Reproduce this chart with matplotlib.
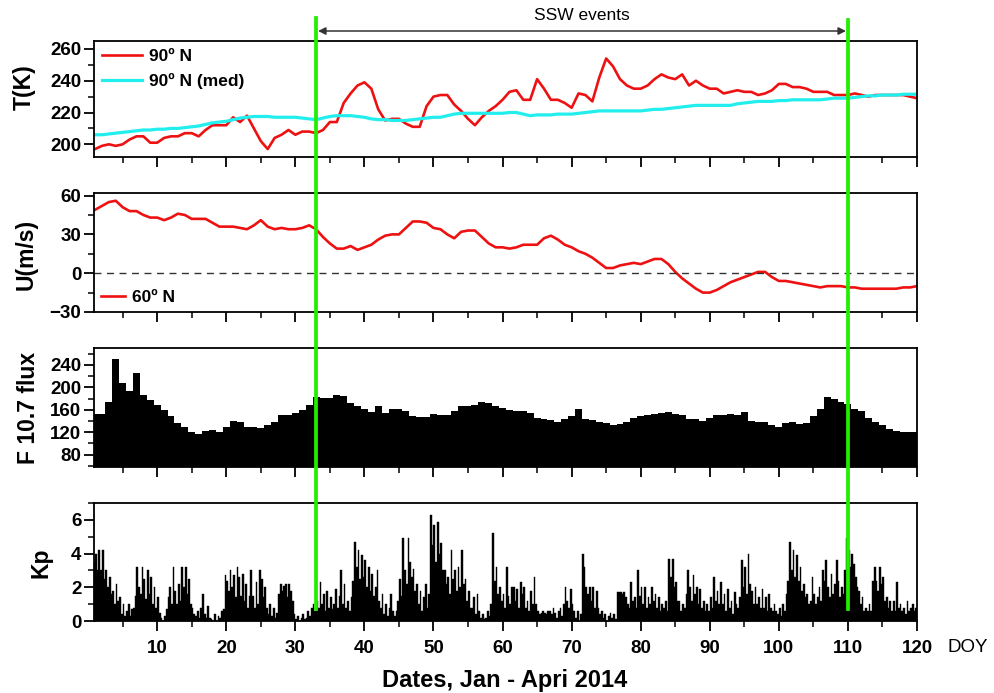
import matplotlib
matplotlib.use("Agg")
import matplotlib.pyplot as plt
from matplotlib.ticker import MultipleLocator
from matplotlib.lines import Line2D
from matplotlib.patches import FancyArrowPatch

plt.rcParams['font.family'] = ['Liberation Sans', 'DejaVu Sans']

days = list(range(1, 121))

t90 = [197, 199, 200, 199, 200, 203, 205, 205, 201, 201, 204, 205, 205, 207, 207, 205, 209, 212, 212, 212,
       217, 214, 218, 210, 202, 197, 204, 206, 209, 206, 208, 208, 207, 209, 214, 214, 226, 232, 237, 239,
       235, 222, 215, 216, 216, 213, 211, 211, 224, 230, 231, 231, 225, 221, 216, 212, 217, 221, 224, 228,
       233, 234, 228, 228, 241, 235, 228, 228, 226, 223, 232, 231, 227, 242, 254, 249, 241, 237, 235, 235,
       237, 241, 244, 242, 241, 244, 237, 240, 237, 235, 235, 232, 233, 234, 233, 233, 231, 232, 234, 238,
       238, 236, 236, 235, 233, 233, 233, 231, 231, 231, 232, 231, 230, 231, 231, 231, 231, 231, 230, 229]

t90_med = [206, 206, 206.5, 207, 207.5, 208, 208.5, 209, 209, 209.5, 209.5, 210, 210, 210.5, 211, 211.5,
           212.5, 213.5, 214, 214.5, 215.5, 216.5, 217, 217.5, 217.5, 217.5, 217, 217, 217, 217, 216.5, 216,
           215.5, 216.5, 217.5, 218, 218, 218, 217.5, 217, 216, 215.5, 215.5, 215, 215, 215, 215.5, 216,
           216.5, 217, 217, 218, 219, 219.5, 219.5, 219.5, 219.5, 219.5, 219.5, 219.5, 220, 220, 219, 218,
           218.5, 218.5, 218.5, 219, 219, 219, 219.5, 220, 220.5, 221, 221, 221, 221, 221, 221, 221, 221.5,
           222, 222, 222.5, 223, 223.5, 224, 224.5, 224.5, 224.5, 224.5, 224.5, 224.5, 225.5, 226, 226.5,
           227, 227, 227, 227.5, 227.5, 228, 228, 228, 228, 228, 228.5, 229, 229, 229, 229.5, 230, 230.5,
           230.5, 231, 231, 231, 231.5, 231.5, 231.5]

u60 = [49, 52, 55, 56, 51, 48, 48, 45, 43, 43, 41, 43, 46, 45, 42, 42, 42, 39, 36, 36,
       36, 35, 34, 37, 41, 36, 34, 35, 34, 34, 35, 37, 34, 28, 23, 19, 19, 21, 18, 20,
       22, 26, 29, 30, 30, 35, 40, 40, 39, 35, 34, 30, 27, 32, 33, 33, 28, 23, 20, 20,
       19, 20, 22, 22, 22, 27, 29, 26, 22, 20, 17, 15, 12, 8, 4, 4, 6, 7, 8, 7,
       9, 11, 11, 7, 1, -4, -8, -12, -15, -15, -13, -10, -7, -5, -3, -1, 1, 1, -3, -6,
       -6, -7, -8, -9, -10, -11, -10, -10, -10, -11, -11, -12, -12, -12, -12, -12, -12, -11, -11, -10]

f107 = [153, 153, 174, 251, 208, 194, 226, 187, 177, 169, 159, 148, 136, 130, 120, 116, 123, 124, 121, 130,
        140, 138, 130, 130, 127, 132, 138, 150, 150, 154, 159, 169, 183, 181, 181, 187, 184, 172, 166, 162,
        156, 166, 155, 161, 161, 157, 148, 147, 147, 153, 151, 151, 158, 166, 166, 169, 174, 172, 166, 163,
        160, 157, 157, 154, 145, 144, 142, 139, 143, 148, 161, 143, 142, 139, 136, 133, 135, 138, 146, 148,
        151, 153, 154, 156, 153, 150, 143, 144, 140, 146, 150, 150, 153, 151, 156, 140, 139, 138, 133, 130,
        136, 138, 135, 136, 149, 161, 183, 179, 174, 171, 162, 158, 145, 139, 132, 126, 123, 120, 121, 121]

kp_by_day = [
    [2.0, 3.5, 4.0, 3.0], [4.2, 3.0, 4.2, 2.5], [3.0, 2.0, 2.6, 1.6], [1.8, 1.0, 2.2, 1.2],
    [1.4, 0.4, 1.0, 0.3], [0.6, 1.0, 0.3, 0.7], [0.8, 1.5, 3.2, 2.0], [1.6, 3.2, 2.5, 1.3],
    [3.0, 1.6, 2.6, 1.0], [2.0, 0.8, 1.4, 0.5], [0.2, 0.0, 0.3, 0.7], [1.4, 2.0, 1.0, 3.2],
    [1.8, 1.0, 2.2, 1.2], [3.2, 2.0, 3.2, 1.6], [2.5, 1.0, 0.8, 0.4], [0.3, 0.6, 0.2, 0.8],
    [1.6, 0.4, 0.2, 0.9], [0.2, 0.1, 0.0, 0.4], [0.0, 0.3, 0.2, 0.6], [0.7, 2.7, 2.4, 1.8],
    [3.0, 2.0, 2.7, 1.4], [3.2, 2.6, 1.5, 2.8], [1.2, 2.2, 0.8, 1.5], [3.0, 1.5, 0.8, 2.3],
    [1.0, 3.0, 2.5, 1.4], [2.0, 0.8, 0.4, 1.0], [0.3, 0.8, 0.2, 0.5], [1.6, 2.2, 1.8, 2.1],
    [2.2, 1.4, 2.2, 1.8], [1.2, 0.4, 0.1, 0.3], [0.0, 0.2, 0.4, 0.1], [0.2, 0.6, 0.3, 0.8],
    [1.0, 0.6, 1.2, 0.8], [2.3, 1.0, 1.6, 0.6], [1.8, 0.8, 1.4, 0.7], [1.0, 1.9, 0.8, 1.5],
    [3.0, 1.0, 2.2, 0.8], [1.2, 0.6, 1.4, 2.4], [4.7, 3.2, 4.2, 2.5], [3.9, 2.6, 3.6, 2.0],
    [3.2, 1.8, 2.8, 1.5], [2.0, 3.0, 1.2, 0.8], [1.6, 0.4, 1.0, 0.3], [0.8, 1.6, 0.6, 0.3],
    [0.6, 1.2, 2.5, 1.5], [4.9, 3.0, 2.2, 4.9], [3.5, 2.6, 3.1, 1.8], [2.2, 1.0, 1.8, 0.6],
    [1.4, 2.2, 0.8, 1.6], [6.3, 4.5, 5.7, 3.5], [5.9, 4.0, 4.6, 3.0], [3.0, 2.2, 2.6, 1.6],
    [4.2, 2.5, 3.0, 1.8], [3.2, 2.0, 4.2, 2.2], [2.5, 1.2, 1.8, 0.8], [0.8, 1.4, 0.4, 1.6],
    [0.6, 0.2, 0.4, 0.1], [0.2, 0.6, 0.3, 1.0], [5.2, 2.4, 3.2, 1.6], [2.0, 1.2, 1.6, 0.8],
    [3.2, 1.5, 1.0, 2.0], [2.0, 1.2, 1.9, 0.8], [2.3, 1.6, 2.0, 0.8], [1.2, 0.6, 1.8, 1.0],
    [2.6, 1.0, 0.6, 0.4], [0.5, 0.6, 0.5, 0.4], [0.6, 0.6, 0.4, 0.8], [0.5, 0.2, 0.6, 0.8],
    [0.3, 1.0, 2.0, 1.2], [0.8, 1.9, 1.0, 0.6], [0.2, 0.6, 0.0, 0.4], [4.0, 3.2, 2.0, 1.6],
    [2.0, 1.2, 2.0, 0.8], [1.8, 0.8, 0.4, 0.6], [0.2, 0.4, 0.0, 0.3], [0.5, 0.2, 0.4, 0.1],
    [1.7, 1.7, 1.7, 1.6], [1.7, 1.4, 1.0, 0.8], [2.3, 1.2, 1.4, 0.8], [3.0, 1.5, 2.0, 1.0],
    [2.0, 0.8, 1.4, 1.0], [2.0, 1.2, 1.6, 0.8], [1.4, 0.6, 1.0, 0.8], [1.2, 0.6, 3.7, 2.6],
    [3.7, 2.0, 2.3, 1.2], [1.2, 0.6, 1.0, 0.8], [1.6, 3.0, 2.0, 1.2], [2.7, 1.6, 2.0, 1.0],
    [1.9, 0.8, 1.2, 0.6], [1.0, 0.6, 1.4, 0.8], [2.6, 1.2, 1.8, 1.0], [2.3, 1.0, 1.6, 0.6],
    [1.9, 0.8, 1.2, 0.4], [1.7, 1.0, 0.8, 1.4], [3.6, 2.0, 3.2, 1.6], [4.0, 2.2, 1.8, 1.0],
    [2.0, 1.0, 1.4, 0.8], [1.9, 0.8, 1.4, 0.6], [1.6, 0.8, 0.6, 1.0], [0.6, 0.4, 0.8, 0.3],
    [1.0, 0.6, 1.6, 2.4], [4.7, 3.0, 4.2, 2.6], [3.9, 2.4, 3.2, 1.8], [2.2, 1.4, 1.6, 1.0],
    [1.2, 2.6, 1.6, 1.0], [1.4, 2.0, 1.2, 3.0], [2.4, 3.6, 2.0, 1.4], [2.8, 1.6, 2.2, 3.6],
    [2.4, 1.4, 2.0, 1.6], [3.0, 4.9, 4.2, 3.2], [4.0, 3.4, 2.6, 2.0], [1.8, 1.0, 1.4, 0.6],
    [0.8, 0.6, 1.0, 0.6], [2.4, 3.2, 2.4, 1.8], [3.2, 2.2, 2.6, 1.2], [1.4, 0.8, 1.2, 0.6],
    [1.2, 0.6, 2.3, 0.8], [1.0, 0.6, 0.8, 0.4], [1.2, 0.6, 0.8, 1.0], [0.6, 0.8, 0.4, 0.6],
]

ssw_start = 33
ssw_end = 110
xticks = [10, 20, 30, 40, 50, 60, 70, 80, 90, 100, 110, 120]

RED = '#ee1111'
CYAN = '#22eeee'
GREEN = '#22ee00'

TICK_FS = 13.5
LABEL_FS = 16.5
LEG_FS = 12.5

fig = plt.figure(figsize=(9.95, 6.93), dpi=100)
left = 94 / 995
width = (917 - 94) / 995


def pos(top, bot):
    return [left, (693 - bot) / 693, width, (bot - top) / 693]


ax1 = fig.add_axes(pos(41, 157))
ax2 = fig.add_axes(pos(193, 312))
ax3 = fig.add_axes(pos(348, 467))
ax4 = fig.add_axes(pos(503, 621))
axes = [ax1, ax2, ax3, ax4]

for ax in axes:
    ax.set_xlim(0.85, 120)
    ax.xaxis.set_major_locator(MultipleLocator(10))
    ax.xaxis.set_minor_locator(MultipleLocator(5))
    ax.tick_params(axis='both', which='major', direction='out', length=7, width=1.3,
                   top=False, right=False, pad=2)
    ax.tick_params(axis='both', which='minor', direction='out', length=4, width=1.1,
                   top=False, right=False)
    for s in ax.spines.values():
        s.set_linewidth(1.3)
    if ax is not ax4:
        ax.tick_params(axis='x', labelbottom=False)

# Panel 1: temperature
ax1.plot(days, t90, color=RED, lw=1.9, label='90º N')
ax1.plot(days, t90_med, color=CYAN, lw=2.3, label='90º N (med)')
ax1.set_ylim(192, 265)
ax1.yaxis.set_major_locator(MultipleLocator(20))
ax1.yaxis.set_minor_locator(MultipleLocator(10))
ax1.set_ylabel('T(K)', fontsize=LABEL_FS, fontweight='bold')
ax1.yaxis.set_label_coords(-0.0705, 0.60)
ax1.legend(loc='upper left', frameon=False, handlelength=2.3,
           borderaxespad=0.15, borderpad=0.3, labelspacing=0.5, handletextpad=0.4,
           prop=dict(size=LEG_FS, weight='bold'))

# Panel 2: zonal wind
ax2.plot(days, u60, color=RED, lw=1.9, label='60º N')
ax2.axhline(0, color='#333333', lw=1.0, ls=(0, (5, 4)))
ax2.set_ylim(-30, 62)
ax2.yaxis.set_major_locator(MultipleLocator(30))
ax2.yaxis.set_minor_locator(MultipleLocator(15))
ax2.set_ylabel('U(m/s)', fontsize=LABEL_FS, fontweight='bold')
ax2.yaxis.set_label_coords(-0.068, 0.48)
ax2.legend(loc='lower left', frameon=False, handlelength=1.4, borderaxespad=0.1,
           borderpad=0.3, handletextpad=0.4, prop=dict(size=LEG_FS, weight='bold'))

# Panel 3: F10.7
ax3.bar(days, f107, width=1.0, color='black', linewidth=0)
ax3.set_ylim(58, 270)
ax3.set_yticks([80, 120, 160, 200, 240])
ax3.yaxis.set_minor_locator(MultipleLocator(20))
ax3.set_ylabel('F 10.7 flux', fontsize=LABEL_FS, fontweight='bold')
ax3.yaxis.set_label_coords(-0.0656, 0.50)

# Panel 4: Kp (6-hourly values)
kp_x = []
kp_v = []
for d, vals in zip(days, kp_by_day):
    for i, v in enumerate(vals):
        kp_x.append(d - 0.5 + i * 0.25)
        kp_v.append(v)
ax4.bar(kp_x, kp_v, width=0.25, align='edge', color='black', linewidth=0.3, edgecolor='black')
ax4.set_ylim(0, 7)
ax4.yaxis.set_major_locator(MultipleLocator(2))
ax4.yaxis.set_minor_locator(MultipleLocator(1))
ax4.set_ylabel('Kp', fontsize=LABEL_FS, fontweight='bold')
ax4.yaxis.set_label_coords(-0.051, 0.49)
ax4.set_xticks(xticks)
ax4.set_xticklabels([str(t) for t in xticks])
ax4.tick_params(axis='x', pad=7)

for ax in axes:
    for lab in ax.get_yticklabels() + ax.get_xticklabels():
        lab.set_fontweight('bold')
        lab.set_fontsize(TICK_FS)

fig.text(968 / 995, 1 - 648 / 693, 'DOY', fontsize=13.5, ha='center', va='center')
fig.text(505 / 995, 1 - 680 / 693, 'Dates, Jan - Apri 2014', fontsize=17, fontweight='bold',
         ha='center', va='center')

# green SSW lines spanning all panels (data -> figure coordinates)
fig.canvas.draw()
inv = fig.transFigure.inverted()
for d, ytop in [(ssw_start, 18), (ssw_end, 20)]:
    xf, yb = inv.transform(ax4.transData.transform((d, 0.7)))
    fig.add_artist(Line2D([xf, xf], [yb, 1 - ytop / 693], color=GREEN, lw=2.7,
                          transform=fig.transFigure, zorder=10))

x0 = inv.transform(ax1.transData.transform((ssw_start, 0)))[0]
x1 = inv.transform(ax1.transData.transform((ssw_end, 0)))[0]
ya = 1 - 31 / 693
fig.add_artist(FancyArrowPatch((x0 + 0.002, ya), (x1 - 0.002, ya),
                               transform=fig.transFigure, arrowstyle='<|-|>', mutation_scale=11,
                               color='#333333', lw=1.1, shrinkA=0, shrinkB=0))
fig.text((x0 + x1) / 2, 1 - 16 / 693, 'SSW events', fontsize=12.5, ha='center', va='center')

fig.savefig('out.png', dpi=100)
